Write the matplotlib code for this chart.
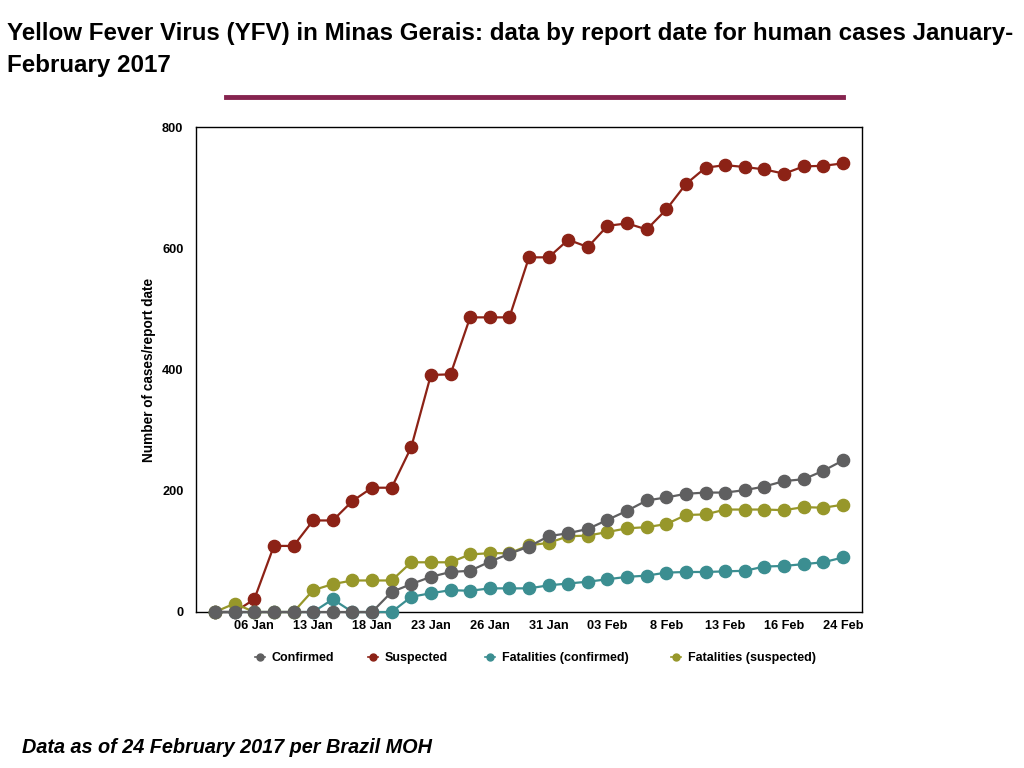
import matplotlib
matplotlib.use("Agg")
import matplotlib.pyplot as plt
from matplotlib.lines import Line2D

plt.rcParams['font.family'] = ['Liberation Sans', 'DejaVu Sans']

dates = ["03 Jan", "05 Jan", "06 Jan", "09 Jan", "11 Jan", "13 Jan", "16 Jan", "17 Jan",
         "18 Jan", "19 Jan", "20 Jan", "23 Jan", "24 Jan", "25 Jan", "26 Jan", "27 Jan",
         "30 Jan", "31 Jan", "01 Feb", "02 Feb", "03 Feb", "06 Feb", "07 Feb", "8 Feb",
         "09 Feb", "10 Feb", "13 Feb", "14 Feb", "15 Feb", "16 Feb", "17 Feb", "20 Feb",
         "24 Feb"]

confirmed = [0, 0, 0, 0, 0, 0, 0, 0, 0, 33, 46, 58, 66, 68, 83, 96, 108, 125, 130, 137,
             152, 167, 184, 189, 195, 197, 197, 201, 207, 216, 219, 233, 250]
suspected = [0, 0, 21, 109, 109, 151, 151, 183, 205, 205, 272, 391, 392, 486, 486, 486,
             585, 585, 614, 602, 637, 641, 631, 664, 706, 733, 737, 734, 730, 723, 735,
             736, 740]
fat_confirmed = [0, 0, 0, 0, 0, 0, 21, 0, 0, 0, 25, 31, 36, 35, 39, 39, 39, 44, 47, 50,
                 54, 58, 60, 65, 66, 66, 67, 68, 75, 76, 79, 82, 90]
fat_suspected = [0, 14, 0, 0, 0, 36, 46, 52, 52, 52, 82, 82, 82, 95, 97, 97, 110, 114,
                 125, 126, 132, 138, 140, 145, 160, 161, 169, 169, 169, 168, 173, 172, 177]

series_names = ["Confirmed", "Suspected", "Fatalities (confirmed)", "Fatalities (suspected)"]
colors = ["#5f5f60", "#8c2216", "#3b8e91", "#97972a"]

W, H = 1024, 768
fig = plt.figure(figsize=(10.24, 7.68), dpi=100)
ax = fig.add_axes([196/W, 1-612/H, (862-196)/W, (612-127)/H])

x = list(range(len(dates)))
data = [confirmed, suspected, fat_confirmed, fat_suspected]
zorders = [5, 2, 3, 4]
for vals, c, z in zip(data, colors, zorders):
    ax.plot(x, vals, color=c, lw=1.6, marker='o', markersize=8.8, zorder=z, clip_on=False)

ax.set_xlim(-0.97, 32.97)
ax.set_ylim(0, 800)
ax.set_yticks([0, 200, 400, 600, 800])
ax.set_xticks(x[2::3])
ax.set_xticklabels(dates[2::3])
ax.tick_params(length=0, labelsize=9.2)
ax.tick_params(axis='y', pad=9)
ax.tick_params(axis='x', pad=6)
for lab in ax.get_xticklabels() + ax.get_yticklabels():
    lab.set_fontweight('bold')
for s in ax.spines.values():
    s.set_linewidth(1.0)
    s.set_color('black')
ax.set_ylabel("Number of cases/report date", fontsize=9.8, fontweight='bold')
ax.yaxis.set_label_coords((156-196)/(862-196), 0.5)

# legend entries (marker + label) placed below the axes
leg_marker_x = [260, 373, 490, 676]
leg_y = 657
for mx, c, name in zip(leg_marker_x, colors, series_names):
    fig.add_artist(Line2D([(mx-5)/W, (mx+5)/W], [1-leg_y/H, 1-leg_y/H], color=c, lw=1.2))
    fig.add_artist(Line2D([mx/W], [1-leg_y/H], color=c, marker='o', markersize=5, lw=0))
    fig.text((mx+12)/W, 1-(leg_y+4)/H, name, fontsize=9, fontweight='bold',
             ha='left', va='baseline')

fig.text(7/W, 1-40/H, "Yellow Fever Virus (YFV) in Minas Gerais: data by report date for human cases January-",
         fontsize=17.4, fontweight='bold', ha='left', va='baseline')
fig.text(7/W, 1-72/H, "February 2017", fontsize=17.4, fontweight='bold', ha='left', va='baseline')

fig.add_artist(Line2D([226/W, 843/W], [1-97/H, 1-97/H], color='#86244f', lw=3.5))

fig.text(22/W, 1-753/H, "Data as of 24 February 2017 per Brazil MOH", fontsize=14.3,
         fontweight='bold', fontstyle='italic', ha='left', va='baseline')

fig.savefig("out.png", dpi=100)
